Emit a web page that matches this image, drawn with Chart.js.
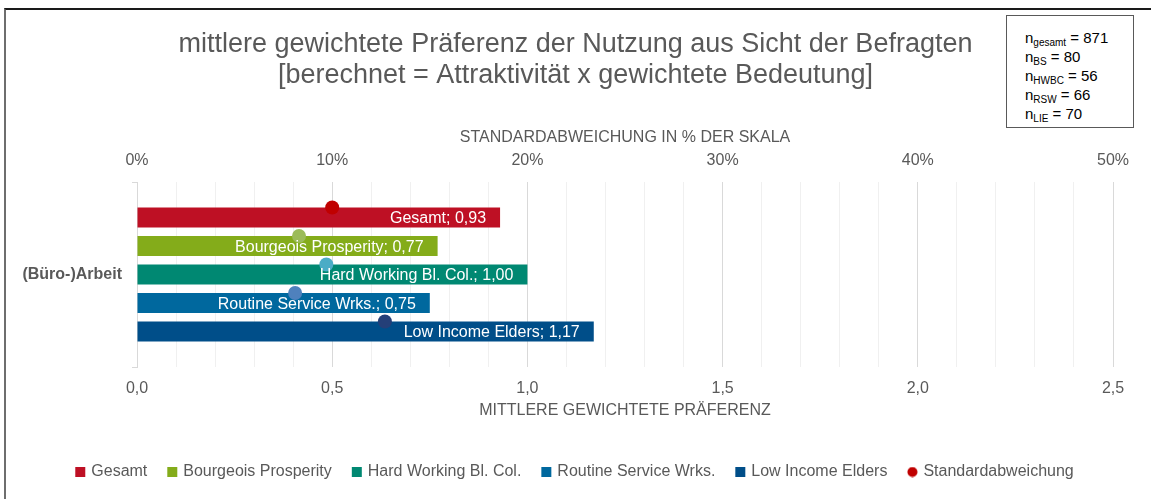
<!DOCTYPE html>
<html>
<head>
<meta charset="utf-8">
<script src="https://cdn.jsdelivr.net/npm/chart.js@4/dist/chart.umd.min.js"></script>
<style>
  html, body { margin: 0; padding: 0; background: #fff; }
  #wrap { position: relative; width: 1151px; height: 499px; overflow: hidden; }
  #frame { position: absolute; left: 4px; top: 8px; width: 1300px; height: 600px;
           border-top: 2px solid #1a1a1a; border-left: 2px solid #6e6e6e; }
  #nbox { position: absolute; left: 1006px; top: 15px; width: 128px; height: 113px;
          border: 1px solid #595959; box-sizing: border-box; background: #fff;
          font-family: "Liberation Sans", Arial, sans-serif; font-size: 15px; color: #000;
          padding: 12px 0 0 18px; line-height: 19px; }
  #nbox sub { font-size: 10px; vertical-align: -3px; line-height: 0; }
  canvas { position: absolute; left: 0; top: 0; }
</style>
</head>
<body>
<div id="wrap">
  <canvas id="grafico" width="1151" height="499"></canvas>
  <div id="frame"></div>
  <div id="nbox">
    n<sub>gesamt</sub> = 871<br>
    n<sub>BS</sub> = 80<br>
    n<sub>HWBC</sub> = 56<br>
    n<sub>RSW</sub> = 66<br>
    n<sub>LIE</sub> = 70
  </div>
</div>
<script>
// Daten
const titleLines = ["mittlere gewichtete Präferenz der Nutzung aus Sicht der Befragten",
                    "[berechnet = Attraktivität x gewichtete Bedeutung]"];
const category = "(Büro-)Arbeit";
const seriesNames = ["Gesamt", "Bourgeois Prosperity", "Hard Working Bl. Col.", "Routine Service Wrks.", "Low Income Elders"];
const praeferenz = [0.93, 0.77, 1.00, 0.75, 1.17];          // mittlere gewichtete Präferenz
const standardabw = [0.100, 0.083, 0.097, 0.081, 0.127];   // Standardabweichung in % der Skala
const barColors = ["#be1024", "#84ac1a", "#008872", "#00689e", "#004e89"];
const dotColors = ["#c00000", "#9bbb59", "#4bacc6", "#4f81bd", "#243f78"];
const stdLabel = "Standardabweichung";
const xTitle = "MITTLERE GEWICHTETE PRÄFERENZ";
const x2Title = "STANDARDABWEICHUNG IN % DER SKALA";

const grey = "#595959";
Chart.defaults.font.family = '"Liberation Sans", Arial, sans-serif';
Chart.defaults.color = grey;

// kleiner Kreis für die Legende
const legendDot = document.createElement("canvas");
legendDot.width = 11; legendDot.height = 11;
const ldc = legendDot.getContext("2d");
ldc.fillStyle = dotColors[0];
ldc.beginPath(); ldc.arc(5.5, 5.5, 5, 0, Math.PI * 2); ldc.fill();

const datasets = seriesNames.map((name, i) => ({
  type: "bar",
  label: name,
  data: [praeferenz[i]],
  backgroundColor: barColors[i],
  pointStyle: "rect",
  categoryPercentage: 0.77,
  barPercentage: 0.70,
  xAxisID: "x",
  yAxisID: "y",
  order: 1
}));
datasets.push({
  type: "scatter",
  label: stdLabel,
  data: standardabw.map(v => ({ x: v, y: category })),
  pointBackgroundColor: dotColors,
  backgroundColor: dotColors[0],
  pointBorderWidth: 0,
  pointRadius: 7,
  pointStyle: "circle",
  xAxisID: "x2",
  yAxisID: "y",
  order: 0
});

// Punkte an die Oberkante des jeweiligen Balkens setzen
const dotPlacer = {
  id: "dotPlacer",
  beforeDatasetsDraw(chart) {
    const dots = chart.getDatasetMeta(seriesNames.length).data;
    dots.forEach((pt, i) => {
      const bar = chart.getDatasetMeta(i).data[0];
      if (bar) pt.y = bar.y - bar.height / 2;
    });
  }
};

// Datenbeschriftungen "Name; Wert"
const barLabels = {
  id: "barLabels",
  afterDatasetsDraw(chart) {
    const ctx = chart.ctx;
    ctx.save();
    ctx.font = '16px "Liberation Sans", Arial, sans-serif';
    ctx.fillStyle = "#ffffff";
    ctx.textAlign = "right";
    ctx.textBaseline = "middle";
    seriesNames.forEach((name, i) => {
      const bar = chart.getDatasetMeta(i).data[0];
      const txt = name + "; " + praeferenz[i].toFixed(2).replace(".", ",");
      ctx.fillText(txt, bar.x - 14, bar.y + 1.5);
    });
    ctx.restore();
  }
};

new Chart(document.getElementById("grafico"), {
  data: { labels: [category], datasets: datasets },
  options: {
    indexAxis: "y",
    responsive: false,
    animation: false,
    layout: { padding: { left: 0, right: 0, top: 0, bottom: 9 } },
    plugins: {
      title: {
        display: true,
        text: titleLines,
        color: grey,
        font: { size: 27, weight: "normal", lineHeight: 31 / 27 },
        padding: { top: 29.5, bottom: 26.5 }
      },
      legend: {
        position: "bottom",
        labels: {
          color: grey,
          font: { size: 16 },
          padding: 22,
          boxWidth: 6,
          boxHeight: 10,
          usePointStyle: true,
          sort: (a, b) => a.datasetIndex - b.datasetIndex,
          generateLabels(chart) {
            const items = Chart.defaults.plugins.legend.labels.generateLabels(chart);
            items.forEach(it => {
              if (it.datasetIndex === seriesNames.length) it.pointStyle = legendDot;
              it.lineWidth = 0;
            });
            return items;
          }
        }
      },
      tooltip: { enabled: false }
    },
    scales: {
      y: {
        type: "category",
        labels: [category],
        position: "left",
        grid: { display: true, drawOnChartArea: false, drawTicks: true, tickLength: 5, color: "#d9d9d9", offset: true },
        border: { display: true, color: "#d9d9d9" },
        ticks: { font: { size: 16, weight: "bold" }, color: grey, padding: 10 },
        afterFit: s => { s.width = 137; }
      },
      // leerer Rand rechts, damit Titel und Legende mittig bleiben
      yRand: {
        type: "linear",
        position: "right",
        ticks: { display: false },
        grid: { display: false },
        border: { display: false },
        afterFit: s => { s.width = 38; }
      },
      x: {
        type: "linear",
        position: "bottom",
        min: 0, max: 2.5,
        ticks: {
          stepSize: 0.1,
          autoSkip: false,
          color: grey,
          font: { size: 16 },
          padding: 12,
          maxRotation: 0,
          callback: v => (Math.round(v * 10) % 5 === 0 ? v.toFixed(1).replace(".", ",") : "")
        },
        grid: {
          drawTicks: false,
          color: c => (Math.round(c.tick.value * 10) % 5 === 0 ? "#d9d9d9" : "#f0f0f0")
        },
        border: { display: false },
        title: { display: true, text: xTitle, color: grey, font: { size: 16 }, padding: { top: 0, bottom: 21.4 } },
        afterFit: s => { s.height = 75; }
      },
      x2: {
        type: "linear",
        position: "top",
        min: 0, max: 0.5,
        ticks: {
          stepSize: 0.1,
          color: grey,
          font: { size: 16 },
          padding: 12,
          maxRotation: 0,
          callback: v => Math.round(v * 100) + "%"
        },
        grid: { drawOnChartArea: false, drawTicks: false },
        border: { display: false },
        title: { display: true, text: x2Title, color: grey, font: { size: 16 }, padding: { top: 10.4, bottom: 0 } },
        afterFit: s => { s.height = 64; }
      }
    }
  },
  plugins: [dotPlacer, barLabels]
});
</script>
</body>
</html>
